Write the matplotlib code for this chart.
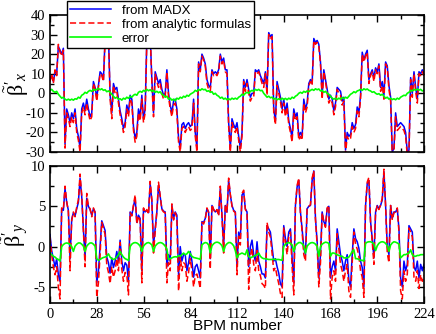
import numpy as np
import matplotlib
matplotlib.use("Agg")
import matplotlib.pyplot as plt
from matplotlib.ticker import MultipleLocator

# beta_x' : from MADX (blue), analytic (red), error (green)
madx_x = [7, 9, 6, 11, 10, 24, 22, 20, 23, -26, -8, -11, -15, -10, -13, -8, -18, -22, -28, -8,
          -5, -9, -3, -8, -12, -10, 6, 3, -2, 4, 11, 10, 7, 28, 36, 30, -1, -10, 5, 2,
          3, -3, -9, -13, -18, -15, -6, -10, -1, -3, -17, -23, -20, -8, -12, -1, -13, -8, 28, 36,
          30, 7, -10, 11, 8, 5, 7, 2, -1, 0, 12, 0, -6, -10, -4, -3, -8, -23, -28, -16,
          -15, -18, -16, -15, -17, -16, -3, -20, -28, 16, 12, 20, 18, 15, 7, 4, 3, 12, 10, 11,
          10, 12, 20, 16, 18, 12, 12, -15, -28, -13, -16, -18, -15, -22, -28, -20, 7, 3, 7, 2,
          -2, 0, 0, 12, 11, 12, 9, 7, 5, 11, 1, 31, 29, 30, -8, -14, 6, 2, -2, -8,
          -3, -10, -5, -14, -18, -23, -8, -12, -10, -22, -20, -22, -3, -8, -5, 5, 7, 5, 28, 26,
          27, 25, 16, -1, 12, 7, 2, -3, -1, -3, -9, -5, 3, 2, 1, -4, -2, -29, -20, -22,
          -21, -15, -18, -16, -7, -10, -1, 21, 17, 20, 22, 7, 10, 12, 8, 13, 11, 15, 3, 6,
          -1, 16, 14, 4, -2, -30, -28, -10, -17, -16, -15, -16, -17, -20, -30, -29, 8, 0, 11, 3,
          -3, 11, 10, 12, 10]
analytic_x = [6, 10, 5, 12, 9, 25, 21, 19, 22, -28, -10, -13, -17, -12, -15, -10, -20, -24, -30, -10,
              -7, -11, -5, -10, -14, -12, 5, 2, -4, 3, 10, 9, 6, 27, 37, 31, -3, -13, 4, 0,
              1, -5, -11, -15, -20, -17, -8, -12, -3, -5, -19, -25, -22, -10, -14, -3, -15, -10, 27, 37,
              31, 5, -12, 10, 6, 3, 5, 0, -3, -2, 11, -2, -8, -12, -6, -5, -10, -25, -30, -18,
              -17, -20, -18, -17, -19, -18, -5, -22, -30, 15, 11, 19, 17, 14, 5, 2, 1, 11, 9, 10,
              9, 11, 19, 15, 17, 11, 10, -17, -30, -15, -18, -20, -17, -24, -30, -22, 6, 1, 5, 0,
              -4, -2, -2, 11, 10, 11, 8, 5, 3, 10, -1, 30, 28, 29, -10, -16, 4, 0, -4, -10,
              -5, -12, -7, -16, -20, -25, -10, -14, -12, -24, -22, -24, -5, -10, -7, 4, 6, 4, 27, 25,
              26, 24, 15, -3, 11, 6, 0, -5, -3, -5, -11, -7, 2, 0, -1, -6, -4, -31, -22, -24,
              -23, -17, -20, -18, -9, -12, -3, 20, 16, 19, 21, 5, 9, 11, 6, 12, 10, 14, 1, 4,
              -3, 15, 13, 2, -4, -32, -30, -12, -19, -18, -17, -18, -19, -22, -32, -31, 7, -2, 10, 1,
              -5, 10, 9, 11, 9]
error_x = [1.5, 2, 1, 0.5, 1, -0.5, -1.5, -2.5, -2, -3, -3.5, -3, -3.5, -3, -3.5, -2.8, -3, -2, -2.5, -1,
           -0.5, 0.5, 0, 1, 1.5, 1, 2, 1.5, 2, 2.5, 1.8, 2.3, 1.5, 1.8, 0.8, 1.2, 0.5, -0.5, -1.5, -2.5,
           -2, -3, -2.8, -3.5, -2.5, -3, -2, -2.6, -1.5, -2, -1, -0.5, -1, 0.5, 1, 0.5, 1.5, 1, 2, 1.3,
           1.8, 1, 1.5, 0.5, 1, 0.3, 0.8, -0.5, -1, -2, -1.5, -3, -2.5, -3.5, -3, -3.8, -2.5, -3, -2, -2.5,
           -1.5, -2, -1, -1.5, -0.5, 0, 0.5, 1.5, 1, 2, 1.5, 2.3, 1.8, 2, 1, 1.3, 0.5, 0.8, -0.5, 0,
           -1, -1.5, -2.5, -2, -3, -2.5, -3.3, -2.8, -3.3, -2.5, -3, -2.5, -3, -2, -1.5, -0.5, -1, 0, 0.5, 0,
           1, 1.5, 1, 2, 1.5, 2, 1.3, 1.5, 0, -1, -2, -1.5, -2.3, -2, -3, -2.5, -3.3, -2.8, -3.3, -2.5,
           -3.2, -2.6, -3.3, -2.5, -3, -2, -2.5, -1.5, -1, 0, 0.5, 0, 1, 0.5, 1.2, 0.8, 1.5, 2, 1.5, 2.3,
           1.8, 2.2, 1.2, 1.5, 0.5, 1, 0, -0.5, -1.5, -2.5, -3, -2.5, -3.2, -2.5, -3, -2.2, -2.8, -2, -2.5, -1.5,
           -0.5, 0, 0.8, 0.3, 1.2, 1.5, 2, 1.5, 2.3, 1.8, 2.2, 1.5, 1.2, 0.5, 0.8, 0, -0.5, -0.2, -1, -0.5,
           -1.5, -2.5, -2, -3, -2.5, -3.2, -2.8, -3.3, -2.5, -3, -2, -1.5, -1, -1.2, 0, 0.5, 1.5, 1.2, 2, 1.5,
           2.2, 1.6, 2, 1.2, 1.5]

# beta_y'
madx_y = [1.5, -0.5, -1.5, -2.5, -1.5, -3.5, -4.3, 4.7, 4.5, 7.2, 5.5, 4.5, -1.5, 3.4, 4.2, 3.8, 4.7, 5.5, 8.5, 6.2,
          2.2, -1.4, 6.0, 5.0, 4.6, 3.9, 4.7, 4.3, -4.5, -3.1, 0.0, 3.2, 2.6, 2.0, -1.3, -2.0, -3.3, -1.4, -2.6, -1.8,
          -0.6, -1.8, 0.8, -1.8, -3.0, -2.0, -2.3, -4.3, 4.3, 3.9, 5.0, 6.0, 3.0, 3.9, 3.5, -3.0, 4.7, 4.3, 4.5, 4.2,
          7.8, 5.7, 0.2, 2.2, 4.3, 7.6, 6.2, 4.7, 4.4, 4.3, -2.5, -1.0, -1.8, 5.1, 3.5, 4.3, 3.9, -3.5, 0.0, -1.8,
          -1.0, -1.0, -3.0, -2.0, -0.6, -1.8, -3.8, -2.5, -2.2, -3.0, -3.9, 3.1, 3.0, 3.5, 4.7, 4.3, -1.5, 5.1, 4.6, 4.3,
          4.5, 4.0, 7.2, 3.9, 0.0, 5.1, 4.3, 8.2, 6.4, 5.1, 4.5, 4.3, -2.5, 1.8, 1.0, 6.4, 6.8, 4.7, 4.3, -2.5,
          0.0, 0.8, -1.0, -1.8, 0.6, -1.8, -2.5, -3.4, -3.4, -3.9, 2.6, 2.2, 1.8, 0.0, -1.8, -1.5, -2.5, -3.3, -4.6, -5.0,
          2.6, 1.0, 0.0, 1.8, 2.2, -1.4, -4.5, 5.1, 7.4, 8.2, 4.3, 2.2, -0.2, -1.0, 4.7, 5.0, 5.1, 8.2, 9.4, 3.5,
          0.6, -3.9, -1.0, 4.3, 3.1, 2.6, 4.7, 5.0, -3.9, -2.5, -1.8, -3.0, 2.2, 0.6, -1.0, -1.8, -3.0, -1.8, -1.0, -4.2,
          -5.0, -1.0, 2.2, 1.0, 0.6, -0.2, -1.8, -2.6, -5.0, 5.1, 7.8, 8.2, 3.1, 1.0, -1.4, 4.3, 5.1, 4.7, 5.1, 5.8,
          9.3, 5.1, 0.0, -1.0, 5.1, 3.5, 4.3, 4.3, 4.7, 2.2, -3.9, -5.0, -1.8, -3.0, -2.2, 2.6, 2.2, 1.8, -2.5, -3.0,
          -1.8, -3.9, -2.2, -3.0, -2.2]
analytic_y = [1.2, -1.0, -2.5, -3.5, -2.5, -5.0, -6.5, 4.8, 4.6, 7.5, 5.6, 4.3, -3.0, 3.2, 4.3, 3.7, 4.9, 5.8, 9.0, 6.4,
              1.8, -2.5, 6.6, 5.0, 4.7, 3.7, 4.8, 4.2, -6.3, -4.5, -1.0, 3.0, 2.3, 1.5, -2.3, -3.2, -4.6, -2.5, -3.8, -3.0,
              -1.5, -3.0, 0.5, -2.8, -4.3, -3.2, -3.5, -6.0, 4.2, 3.8, 5.2, 6.4, 2.8, 3.8, 3.2, -4.5, 4.8, 4.2, 4.6, 4.0,
              8.1, 5.8, -0.8, 1.8, 4.4, 8.0, 6.3, 4.6, 4.3, 4.2, -4.5, -2.0, -3.0, 5.3, 3.3, 4.2, 3.6, -5.5, -1.2, -3.0,
              -2.0, -2.2, -4.3, -3.2, -1.5, -3.0, -5.0, -3.6, -3.4, -4.2, -5.2, 3.0, 2.8, 3.4, 4.8, 4.2, -2.8, 5.2, 4.6, 4.2,
              4.6, 3.8, 7.5, 3.7, -0.8, 5.2, 4.2, 8.5, 6.5, 5.0, 4.4, 4.2, -3.5, 1.3, 0.2, 6.6, 7.0, 4.6, 4.2, -5.3,
              -1.2, -0.2, -2.2, -3.0, -0.5, -3.0, -3.6, -4.6, -4.8, -5.2, 3.0, 1.8, 1.2, -0.8, -3.0, -2.6, -3.7, -4.6, -5.8, -6.3,
              2.4, 0.5, -1.0, 1.2, 1.8, -2.5, -6.0, 5.2, 7.6, 8.5, 4.2, 1.8, -1.0, -1.8, 4.8, 5.0, 5.2, 8.5, 9.4, 3.3,
              0.2, -5.0, -2.0, 4.2, 3.0, 2.4, 4.8, 5.1, -6.5, -3.8, -3.0, -4.3, 1.6, -0.3, -2.2, -3.0, -4.3, -3.0, -2.2, -5.5,
              -6.3, -2.0, 1.8, 0.3, -0.3, -1.2, -3.0, -3.8, -6.3, 5.2, 8.0, 8.6, 3.0, 0.6, -2.2, 4.2, 5.1, 4.6, 5.2, 6.0,
              9.6, 5.0, -0.8, -2.0, 5.1, 3.3, 4.2, 4.3, 4.8, 1.8, -5.5, -6.5, -3.0, -4.3, -3.4, 2.3, 1.8, 1.2, -3.8, -4.3,
              -3.0, -5.2, -3.5, -4.3, -3.6]
error_y = [-0.8, -1.0, -1.2, -1.3, -1.5, -1.6, -1.8, 0.0, 0.25, 0.4, 0.45, 0.4, 0.25, 0.0, -0.6,
           0.05, 0.3, 0.45, 0.45, 0.3, 0.05, -0.6, 0.05, 0.3, 0.45, 0.45, 0.3, 0.05,
           -1.5, -1.7, -1.6, -1.45, -1.35, -1.3, -1.2, -0.9, -1.3, -1.5, -1.6, -1.5, -1.3, -1.0, -0.6, -1.0, -1.3, -1.5, -1.6, -1.7,
           0.0, 0.3, 0.45, 0.5, 0.45, 0.3, 0.05, -0.6, 0.05, 0.3, 0.45, 0.5, 0.4, 0.2, -0.6,
           0.05, 0.3, 0.45, 0.5, 0.45, 0.3, 0.05, -0.3,
           -1.6, -1.5, -1.4, -1.3, -1.25, -1.3, -1.1, -1.2, -1.0, -0.8, -1.0, -0.9, -0.6, -0.9, -1.2, -1.35, -1.4, -1.45, -1.5, -1.6,
           0.2, 0.4, 0.5, 0.45, 0.2, -0.8, 0.1, 0.35, 0.5, 0.55, 0.5, 0.35, 0.1, -0.6,
           0.1, 0.35, 0.5, 0.5, 0.35, 0.1, -0.5,
           -1.4, -1.0, -0.9, -0.8, -0.9, -1.0, -0.4, -1.2, -1.4, -1.3, -1.2, -1.1, -1.0, -0.8, -1.2, -1.4, -1.5, -1.5, -1.55, -1.6,
           -1.6, -1.6, -1.55, -1.6, -1.6, -1.6, -1.65, -1.7,
           0.0, 0.3, 0.45, 0.5, 0.4, 0.2, -0.6, 0.1, 0.35, 0.5, 0.5, 0.35, 0.1, -0.8,
           0.05, 0.3, 0.45, 0.5, 0.45, 0.3, 0.0, -1.2, 0.0, 0.3, 0.45, 0.55, 0.5, 0.4,
           -1.2, -0.8, -0.8, -0.9, -1.0, -1.1, -1.2, -1.2, -1.4, -1.4, -1.4, -1.3, -1.0, -0.6, -0.4, -1.5, -1.5, -1.6, -1.7, -1.7, -1.8,
           0.4, 0.55, 0.6, 0.6, 0.5, 0.3, -0.5, 0.1, 0.4, 0.55, 0.6, 0.55, 0.4, 0.1, -0.6,
           0.2, 0.45, 0.6, 0.55, 0.45, 0.3,
           -1.4, -1.2, -1.0, -1.0, -0.9, -0.8, -0.4, -1.0, -1.2, -1.2, -1.1, -1.1, -1.0, -1.0, -1.0]

labels = ["from MADX", "from analytic formulas", "error"]
xticks = [0, 28, 56, 84, 112, 140, 168, 196, 224]

plt.rcParams["axes.unicode_minus"] = False
plt.rcParams["mathtext.fontset"] = "custom"
plt.rcParams["mathtext.rm"] = "Liberation Serif"
plt.rcParams["mathtext.it"] = "Liberation Serif:italic"

fig = plt.figure(figsize=(4.36, 3.34), dpi=100)
ax1 = fig.add_axes([50 / 436, 1 - 152 / 334, 374 / 436, 137 / 334])
ax2 = fig.add_axes([50 / 436, 1 - 303 / 334, 374 / 436, 137 / 334])

panels = [(ax1, madx_x, analytic_x, error_x), (ax2, madx_y, analytic_y, error_y)]
for ax, b, r, g in panels:
    ax.plot(np.arange(len(b)), b, color="#0000ff", lw=1.1, label=labels[0])
    ax.plot(np.arange(len(r)), r, color="#ff0000", lw=1.1, ls=(0, (4, 2)), label=labels[1])
    ax.plot(np.arange(len(g)), g, color="#00ff00", lw=1.2, label=labels[2])
    ax.set_xlim(0, 224)
    ax.set_xticks(xticks)
    ax.xaxis.set_minor_locator(MultipleLocator(14))
    ax.tick_params(which="both", direction="in", top=True, right=True, width=1)
    ax.tick_params(which="major", length=5)
    ax.tick_params(which="minor", length=3)
    for s in ax.spines.values():
        s.set_linewidth(1.2)

ax1.set_ylim(-30, 40)
ax1.set_yticks(np.arange(-30, 41, 10))
ax1.yaxis.set_minor_locator(MultipleLocator(5))
ax1.tick_params(labelbottom=False)
ax2.set_ylim(-7, 10)
ax2.set_yticks([-5, 0, 5, 10])
ax2.yaxis.set_minor_locator(MultipleLocator(2.5))
for t in ax1.get_yticklabels() + ax2.get_yticklabels() + ax2.get_xticklabels():
    t.set_fontfamily("Liberation Serif")
    t.set_fontsize(10.5)

ax1.set_ylabel(r"$\tilde{\mathrm{\beta}}'_{x}$", fontsize=16)
ax2.set_ylabel(r"$\tilde{\mathrm{\beta}}'_{y}$", fontsize=16)
ax1.yaxis.set_label_coords(-0.051, 0.5)
ax2.yaxis.set_label_coords(-0.051, 0.5)
ax2.set_xlabel("BPM number", fontfamily="Liberation Sans", fontsize=11, labelpad=-1)

h, l = ax1.get_legend_handles_labels()
leg = fig.legend(h, l, loc="upper left", bbox_to_anchor=(67 / 436, 1 - 1 / 334),
                 prop={"family": "Liberation Sans", "size": 9.5}, fancybox=False,
                 framealpha=1, edgecolor="black", handlelength=3.1, handletextpad=0.8,
                 labelspacing=0.15, borderpad=0.25, borderaxespad=0)
leg.get_frame().set_linewidth(1.0)

fig.savefig("out.png", dpi=100)
